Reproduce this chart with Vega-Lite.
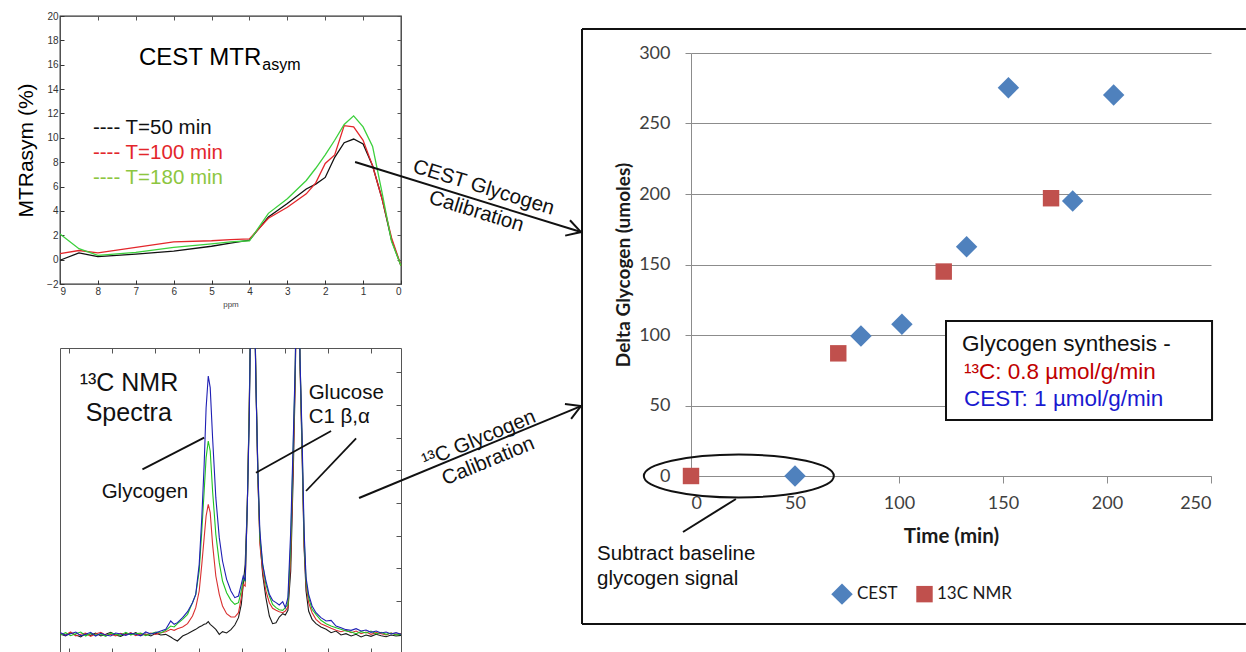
{
  "$schema": "https://vega.github.io/schema/vega-lite/v6.json",
  "background": "white",
  "padding": {"left": 14, "top": 10, "right": 0, "bottom": 0},
  "bounds": "flush",
  "spacing": 631,
  "config": {
    "view": {"stroke": null},
    "font": "Liberation Sans",
    "axis": {"labelFont": "Liberation Sans", "titleFont": "Liberation Sans"}
  },
  "resolve": {
    "scale": {"color": "independent", "shape": "independent", "size": "independent"},
    "legend": {"color": "independent", "shape": "independent", "size": "independent"}
  },
  "hconcat": [
    {
      "bounds": "flush",
      "spacing": 64,
      "resolve": {
        "scale": {"color": "independent"},
        "legend": {"color": "independent"}
      },
      "vconcat": [
        {
          "width": 341,
          "height": 268,
          "view": {"stroke": "#333333", "strokeWidth": 1.3},
          "data": {
            "values": [
              {"ppm": 9, "T=50 min": -0.05, "T=100 min": 0.5, "T=180 min": 2.1},
              {"ppm": 8.5, "T=50 min": 0.55, "T=100 min": 0.75, "T=180 min": 0.9},
              {"ppm": 8, "T=50 min": 0.25, "T=100 min": 0.55, "T=180 min": 0.35},
              {"ppm": 7, "T=50 min": 0.45, "T=100 min": 1.0, "T=180 min": 0.6},
              {"ppm": 6, "T=50 min": 0.7, "T=100 min": 1.45, "T=180 min": 1.0},
              {"ppm": 5, "T=50 min": 1.1, "T=100 min": 1.55, "T=180 min": 1.3},
              {"ppm": 4.5, "T=50 min": 1.35, "T=100 min": 1.65, "T=180 min": 1.45},
              {"ppm": 4, "T=50 min": 1.6, "T=100 min": 1.7, "T=180 min": 1.55},
              {"ppm": 3.5, "T=50 min": 3.5, "T=100 min": 3.4, "T=180 min": 3.8},
              {"ppm": 3, "T=50 min": 4.6, "T=100 min": 4.3, "T=180 min": 5.0},
              {"ppm": 2.5, "T=50 min": 5.8, "T=100 min": 5.4, "T=180 min": 6.5},
              {"ppm": 2.25, "T=50 min": 6.2, "T=100 min": 6.3, "T=180 min": 7.5},
              {"ppm": 2, "T=50 min": 6.75, "T=100 min": 7.9, "T=180 min": 8.6},
              {"ppm": 1.75, "T=50 min": 8.4, "T=100 min": 8.6, "T=180 min": 9.8},
              {"ppm": 1.5, "T=50 min": 9.6, "T=100 min": 11.0, "T=180 min": 11.1},
              {"ppm": 1.25, "T=50 min": 9.9, "T=100 min": 10.9, "T=180 min": 11.8},
              {"ppm": 1, "T=50 min": 9.5, "T=100 min": 9.8, "T=180 min": 10.9},
              {"ppm": 0.75, "T=50 min": 7.7, "T=100 min": 7.7, "T=180 min": 9.3},
              {"ppm": 0.5, "T=50 min": 5.0, "T=100 min": 5.0, "T=180 min": 5.5},
              {"ppm": 0.25, "T=50 min": 1.6, "T=100 min": 1.8, "T=180 min": 1.5},
              {"ppm": 0, "T=50 min": -0.5, "T=100 min": -0.5, "T=180 min": -0.5}
            ]
          },
          "resolve": {"axis": {"x": "independent", "y": "independent"}},
          "layer": [
            {
              "transform": [{"fold": ["T=50 min", "T=100 min", "T=180 min"], "as": ["scan", "mtr"]}],
              "mark": {"type": "line", "strokeWidth": 1.3},
              "encoding": {
                "x": {
                  "field": "ppm", "type": "quantitative",
                  "scale": {"domain": [0, 9], "reverse": true, "nice": false},
                  "axis": {"orient": "bottom", "values": [0, 1, 2, 3, 4, 5, 6, 7, 8, 9], "domain": false, "grid": false, "tickSize": -4, "tickColor": "#333", "labelFontSize": 10, "labelColor": "#333", "labelPadding": 6, "title": "ppm", "titleFontSize": 8, "titleFontWeight": "normal", "titleColor": "#444", "titlePadding": 4}
                },
                "y": {
                  "field": "mtr", "type": "quantitative",
                  "scale": {"domain": [-2, 20], "nice": false},
                  "axis": {"orient": "left", "values": [-2, 0, 2, 4, 6, 8, 10, 12, 14, 16, 18, 20], "domain": false, "grid": false, "tickSize": -4, "tickColor": "#333", "labelFontSize": 10, "labelColor": "#333", "labelPadding": 6, "title": "MTRasym (%)", "titleFontSize": 21, "titleFontWeight": "normal", "titleColor": "#000", "titlePadding": 10}
                },
                "color": {
                  "field": "scan", "type": "nominal",
                  "scale": {"domain": ["T=50 min", "T=100 min", "T=180 min"], "range": ["#111111", "#e3262b", "#3cd03c"]},
                  "legend": null
                }
              }
            },
            {
              "transform": [{"fold": ["T=50 min", "T=100 min", "T=180 min"], "as": ["scan", "mtr"]}],
              "mark": {"type": "line", "opacity": 0},
              "encoding": {
                "x": {"field": "ppm", "type": "quantitative", "axis": {"orient": "top", "values": [0, 1, 2, 3, 4, 5, 6, 7, 8, 9], "labels": false, "domain": false, "grid": false, "tickSize": -4, "tickColor": "#555", "title": null}},
                "y": {"field": "mtr", "type": "quantitative", "axis": {"orient": "right", "values": [-2, 0, 2, 4, 6, 8, 10, 12, 14, 16, 18, 20], "labels": false, "domain": false, "grid": false, "tickSize": -4, "tickColor": "#555", "title": null}}
              }
            },
            {
              "data": {"values": [{}]},
              "mark": {"type": "text", "text": "CEST MTR", "align": "left", "baseline": "middle", "fontSize": 24, "color": "#000"},
              "encoding": {"x": {"datum": 6.915, "axis": null}, "y": {"datum": 16.55, "axis": null}}
            },
            {
              "data": {"values": [{}]},
              "mark": {"type": "text", "text": "asym", "align": "left", "baseline": "middle", "fontSize": 16, "color": "#000"},
              "encoding": {"x": {"datum": 3.66, "axis": null}, "y": {"datum": 15.98, "axis": null}}
            },
            {
              "data": {"values": [{}]},
              "mark": {"type": "text", "text": "---- T=50 min", "align": "left", "baseline": "middle", "fontSize": 20.5, "color": "#111111"},
              "encoding": {"x": {"datum": 8.13, "axis": null}, "y": {"datum": 10.8, "axis": null}}
            },
            {
              "data": {"values": [{}]},
              "mark": {"type": "text", "text": "---- T=100 min", "align": "left", "baseline": "middle", "fontSize": 20.5, "color": "#e3262b"},
              "encoding": {"x": {"datum": 8.13, "axis": null}, "y": {"datum": 8.75, "axis": null}}
            },
            {
              "data": {"values": [{}]},
              "mark": {"type": "text", "text": "---- T=180 min", "align": "left", "baseline": "middle", "fontSize": 20.5, "color": "#8dc63f"},
              "encoding": {"x": {"datum": 8.13, "axis": null}, "y": {"datum": 6.7, "axis": null}}
            }
          ]
        },
        {
          "width": 341,
          "height": 305,
          "view": {"stroke": "#555555", "strokeWidth": 1},
          "data": {
            "values": [
              {"shift": 106.39, "t1": 0, "t2": 2, "t3": -2, "t4": 5},
              {"shift": 106.16, "t1": -5, "t2": -2, "t3": 5, "t4": -3},
              {"shift": 105.93, "t1": 5, "t2": 7, "t3": -4, "t4": 2},
              {"shift": 105.69, "t1": -2, "t2": -5, "t3": 2, "t4": 7},
              {"shift": 105.46, "t1": -8, "t2": 0, "t3": 7, "t4": -4},
              {"shift": 105.23, "t1": 2, "t2": 4, "t3": -5, "t4": 0},
              {"shift": 105.0, "t1": -3, "t2": -6, "t3": 3, "t4": 6},
              {"shift": 104.77, "t1": 4, "t2": 1, "t3": -2, "t4": -5},
              {"shift": 104.53, "t1": -5, "t2": 6, "t3": 1, "t4": 3},
              {"shift": 104.3, "t1": 0, "t2": -3, "t3": -6, "t4": -2},
              {"shift": 104.07, "t1": 6, "t2": 0, "t3": 4, "t4": -5},
              {"shift": 103.84, "t1": -2, "t2": -5, "t3": 0, "t4": 4},
              {"shift": 103.61, "t1": -6, "t2": 3, "t3": -3, "t4": 1},
              {"shift": 103.37, "t1": 2, "t2": -1, "t3": 6, "t4": -3},
              {"shift": 103.14, "t1": -1, "t2": 5, "t3": -2, "t4": 3},
              {"shift": 102.91, "t1": 5, "t2": -4, "t3": 2, "t4": 0},
              {"shift": 102.68, "t1": -3, "t2": 2, "t3": 4, "t4": -5},
              {"shift": 102.45, "t1": 1, "t2": -2, "t3": -4, "t4": 7},
              {"shift": 102.21, "t1": -5, "t2": 4, "t3": 2, "t4": 1},
              {"shift": 101.98, "t1": 3, "t2": 0, "t3": 7, "t4": 5},
              {"shift": 101.75, "t1": -2, "t2": 5, "t3": 4, "t4": 10},
              {"shift": 101.52, "t1": 0, "t2": 8, "t3": 12, "t4": 15},
              {"shift": 101.29, "t1": -8, "t2": 15, "t3": 25, "t4": 40},
              {"shift": 101.13, "t1": -15, "t2": 12, "t3": 22, "t4": 30},
              {"shift": 100.98, "t1": -20, "t2": 17, "t3": 32, "t4": 35},
              {"shift": 100.74, "t1": -5, "t2": 22, "t3": 45, "t4": 50},
              {"shift": 100.51, "t1": 2, "t2": 32, "t3": 60, "t4": 68},
              {"shift": 100.28, "t1": 10, "t2": 55, "t3": 95, "t4": 95},
              {"shift": 100.13, "t1": 15, "t2": 80, "t3": 120, "t4": 120},
              {"shift": 99.97, "t1": 22, "t2": 130, "t3": 190, "t4": 210},
              {"shift": 99.85, "t1": 26, "t2": 210, "t3": 310, "t4": 350},
              {"shift": 99.74, "t1": 30, "t2": 290, "t3": 430, "t4": 510},
              {"shift": 99.65, "t1": 32, "t2": 355, "t3": 530, "t4": 680},
              {"shift": 99.55, "t1": 38, "t2": 390, "t3": 580, "t4": 775},
              {"shift": 99.46, "t1": 30, "t2": 365, "t3": 550, "t4": 740},
              {"shift": 99.35, "t1": 24, "t2": 270, "t3": 430, "t4": 590},
              {"shift": 99.2, "t1": 15, "t2": 175, "t3": 300, "t4": 410},
              {"shift": 99.04, "t1": 0, "t2": 120, "t3": 215, "t4": 290},
              {"shift": 98.89, "t1": 8, "t2": 85, "t3": 160, "t4": 220},
              {"shift": 98.7, "t1": 4, "t2": 62, "t3": 125, "t4": 165},
              {"shift": 98.5, "t1": 14, "t2": 52, "t3": 102, "t4": 130},
              {"shift": 98.32, "t1": 28, "t2": 52, "t3": 90, "t4": 110},
              {"shift": 98.15, "t1": 50, "t2": 65, "t3": 95, "t4": 115},
              {"shift": 98.02, "t1": 90, "t2": 110, "t3": 130, "t4": 150},
              {"shift": 97.93, "t1": 150, "t2": 150, "t3": 165, "t4": 175},
              {"shift": 97.84, "t1": 210, "t2": 145, "t3": 160, "t4": 160},
              {"shift": 97.74, "t1": 390, "t2": 390, "t3": 390, "t4": 390},
              {"shift": 97.65, "t1": 690, "t2": 680, "t3": 670, "t4": 650},
              {"shift": 97.56, "t1": 1100, "t2": 1100, "t3": 1100, "t4": 1100},
              {"shift": 97.5, "t1": 1300, "t2": 1300, "t3": 1300, "t4": 1300},
              {"shift": 97.43, "t1": 1100, "t2": 1100, "t3": 1100, "t4": 1100},
              {"shift": 97.34, "t1": 760, "t2": 750, "t3": 750, "t4": 740},
              {"shift": 97.25, "t1": 460, "t2": 480, "t3": 490, "t4": 490},
              {"shift": 97.16, "t1": 290, "t2": 270, "t3": 290, "t4": 310},
              {"shift": 97.03, "t1": 180, "t2": 190, "t3": 210, "t4": 210},
              {"shift": 96.88, "t1": 110, "t2": 130, "t3": 150, "t4": 160},
              {"shift": 96.72, "t1": 55, "t2": 95, "t3": 115, "t4": 120},
              {"shift": 96.57, "t1": 32, "t2": 78, "t3": 90, "t4": 102},
              {"shift": 96.41, "t1": 35, "t2": 72, "t3": 80, "t4": 95},
              {"shift": 96.26, "t1": 52, "t2": 68, "t3": 74, "t4": 88},
              {"shift": 96.1, "t1": 62, "t2": 65, "t3": 72, "t4": 98},
              {"shift": 95.98, "t1": 58, "t2": 70, "t3": 80, "t4": 80},
              {"shift": 95.86, "t1": 72, "t2": 82, "t3": 90, "t4": 110},
              {"shift": 95.73, "t1": 190, "t2": 230, "t3": 270, "t4": 310},
              {"shift": 95.61, "t1": 490, "t2": 530, "t3": 570, "t4": 590},
              {"shift": 95.52, "t1": 760, "t2": 780, "t3": 800, "t4": 810},
              {"shift": 95.41, "t1": 1300, "t2": 1300, "t3": 1300, "t4": 1300},
              {"shift": 95.3, "t1": 810, "t2": 820, "t3": 830, "t4": 830},
              {"shift": 95.21, "t1": 560, "t2": 580, "t3": 590, "t4": 610},
              {"shift": 95.11, "t1": 260, "t2": 270, "t3": 290, "t4": 310},
              {"shift": 95.02, "t1": 130, "t2": 150, "t3": 160, "t4": 170},
              {"shift": 94.9, "t1": 70, "t2": 95, "t3": 110, "t4": 120},
              {"shift": 94.74, "t1": 45, "t2": 65, "t3": 75, "t4": 85},
              {"shift": 94.56, "t1": 32, "t2": 45, "t3": 60, "t4": 65},
              {"shift": 94.33, "t1": 22, "t2": 32, "t3": 42, "t4": 50},
              {"shift": 94.09, "t1": 15, "t2": 25, "t3": 32, "t4": 40},
              {"shift": 93.86, "t1": 5, "t2": 18, "t3": 25, "t4": 42},
              {"shift": 93.63, "t1": 10, "t2": 12, "t3": 20, "t4": 25},
              {"shift": 93.4, "t1": -2, "t2": 8, "t3": 15, "t4": 20},
              {"shift": 93.17, "t1": 2, "t2": 12, "t3": 10, "t4": 14},
              {"shift": 92.93, "t1": -5, "t2": 5, "t3": 7, "t4": 12},
              {"shift": 92.7, "t1": 0, "t2": 10, "t3": 2, "t4": 17},
              {"shift": 92.47, "t1": -8, "t2": 2, "t3": 8, "t4": 10},
              {"shift": 92.24, "t1": -2, "t2": 7, "t3": 4, "t4": 13},
              {"shift": 92.01, "t1": -6, "t2": 0, "t3": 10, "t4": 6},
              {"shift": 91.77, "t1": 0, "t2": 5, "t3": 1, "t4": 10},
              {"shift": 91.54, "t1": -4, "t2": 2, "t3": 6, "t4": 4},
              {"shift": 91.31, "t1": -7, "t2": -2, "t3": 0, "t4": 7},
              {"shift": 91.08, "t1": -2, "t2": 4, "t3": 4, "t4": 1},
              {"shift": 90.85, "t1": -5, "t2": 0, "t3": -2, "t4": 5},
              {"shift": 90.62, "t1": -3, "t2": 2, "t3": 0, "t4": 0}
            ]
          },
          "resolve": {"axis": {"x": "independent", "y": "independent"}},
          "layer": [
            {
              "transform": [{"fold": ["t1", "t2", "t3", "t4"], "as": ["scan", "intensity"]}],
              "mark": {"type": "line", "strokeWidth": 1.1, "clip": true},
              "encoding": {
                "x": {
                  "field": "shift", "type": "quantitative",
                  "scale": {"domain": [90.62, 106.42], "reverse": true, "nice": false, "zero": false},
                  "axis": {"orient": "bottom", "values": [92, 94, 96, 98, 100, 102, 104, 106], "labels": false, "domain": false, "grid": false, "tickSize": -5, "tickColor": "#555", "title": null}
                },
                "y": {
                  "field": "intensity", "type": "quantitative",
                  "scale": {"domain": [-56, 859], "nice": false, "zero": false},
                  "axis": {"orient": "right", "values": [100, 198, 296, 394, 492, 590, 688, 786], "labels": false, "domain": false, "grid": false, "tickSize": -5, "tickColor": "#555", "title": null}
                },
                "color": {
                  "field": "scan", "type": "nominal",
                  "scale": {"domain": ["t1", "t2", "t3", "t4"], "range": ["#1a1a1a", "#d93030", "#22c322", "#1f1fb4"]},
                  "legend": null
                }
              }
            },
            {
              "transform": [{"fold": ["t1", "t2", "t3", "t4"], "as": ["scan", "intensity"]}],
              "mark": {"type": "line", "opacity": 0},
              "encoding": {
                "x": {"field": "shift", "type": "quantitative", "axis": {"orient": "top", "values": [92, 94, 96, 98, 100, 102, 104, 106], "labels": false, "domain": false, "grid": false, "tickSize": -5, "tickColor": "#555", "title": null}},
                "y": {"field": "intensity", "type": "quantitative", "axis": null}
              }
            },
            {
              "data": {"values": [{}]},
              "mark": {"type": "text", "text": "¹³C NMR", "align": "left", "baseline": "middle", "fontSize": 25, "color": "#111"},
              "encoding": {"x": {"datum": 105.51, "axis": null}, "y": {"datum": 755, "axis": null}}
            },
            {
              "data": {"values": [{}]},
              "mark": {"type": "text", "text": "Spectra", "align": "left", "baseline": "middle", "fontSize": 25, "color": "#111"},
              "encoding": {"x": {"datum": 105.23, "axis": null}, "y": {"datum": 665, "axis": null}}
            },
            {
              "data": {"values": [{}]},
              "mark": {"type": "text", "text": "Glycogen", "align": "left", "baseline": "middle", "fontSize": 20.5, "color": "#111"},
              "encoding": {"x": {"datum": 104.49, "axis": null}, "y": {"datum": 428, "axis": null}}
            },
            {
              "data": {"values": [{}]},
              "mark": {"type": "text", "text": "Glucose", "align": "left", "baseline": "middle", "fontSize": 20.5, "color": "#111"},
              "encoding": {"x": {"datum": 94.9, "axis": null}, "y": {"datum": 725, "axis": null}}
            },
            {
              "data": {"values": [{}]},
              "mark": {"type": "text", "text": "C1 β,α", "align": "left", "baseline": "middle", "fontSize": 20.5, "color": "#111"},
              "encoding": {"x": {"datum": 94.9, "axis": null}, "y": {"datum": 652, "axis": null}}
            },
            {
              "data": {"values": [{}]},
              "mark": {"type": "rule", "color": "#111", "strokeWidth": 1.8},
              "encoding": {"x": {"datum": 102.6, "axis": null}, "y": {"datum": 495, "axis": null}, "x2": {"datum": 99.74}, "y2": {"datum": 590}}
            },
            {
              "data": {"values": [{}]},
              "mark": {"type": "rule", "color": "#111", "strokeWidth": 1.8},
              "encoding": {"x": {"datum": 97.34, "axis": null}, "y": {"datum": 485, "axis": null}, "x2": {"datum": 93.86}, "y2": {"datum": 610}}
            },
            {
              "data": {"values": [{}]},
              "mark": {"type": "rule", "color": "#111", "strokeWidth": 1.8},
              "encoding": {"x": {"datum": 95.02, "axis": null}, "y": {"datum": 430, "axis": null}, "x2": {"datum": 92.7}, "y2": {"datum": 588}}
            }
          ]
        }
      ]
    },
    {
      "width": 520,
      "height": 460,
      "layer": [
        {
          "data": {
            "values": [
              {"series": "CEST", "time": 50, "glycogen": 0},
              {"series": "CEST", "time": 81.7, "glycogen": 99.3},
              {"series": "CEST", "time": 101.4, "glycogen": 107.6},
              {"series": "CEST", "time": 132.5, "glycogen": 162.6},
              {"series": "CEST", "time": 152.6, "glycogen": 275.4},
              {"series": "CEST", "time": 183.5, "glycogen": 195},
              {"series": "CEST", "time": 203.2, "glycogen": 270.2},
              {"series": "13C NMR", "time": 0, "glycogen": 0},
              {"series": "13C NMR", "time": 70.8, "glycogen": 87},
              {"series": "13C NMR", "time": 121.5, "glycogen": 145},
              {"series": "13C NMR", "time": 173.1, "glycogen": 197}
            ]
          },
          "mark": {"type": "point", "filled": true, "opacity": 1},
          "encoding": {
            "x": {
              "field": "time", "type": "quantitative",
              "scale": {"domain": [0, 250], "nice": false},
              "axis": {"values": [0, 50, 100, 150, 200, 250], "grid": false, "domainColor": "#8c8c8c", "tickColor": "#8c8c8c", "tickSize": 7, "labelFont": "Lato", "labelFontSize": 18, "labelColor": "#404040", "labelPadding": 11, "title": "Time (min)", "titleFont": "Lato", "titleFontSize": 20.5, "titleFontWeight": "bold", "titleColor": "#1a1a1a", "titlePadding": 14}
            },
            "y": {
              "field": "glycogen", "type": "quantitative",
              "scale": {"domain": [0, 300], "range": [460, 37], "nice": false},
              "axis": {"values": [0, 50, 100, 150, 200, 250, 300], "grid": true, "gridColor": "#8c8c8c", "gridWidth": 1, "domainColor": "#8c8c8c", "tickColor": "#8c8c8c", "tickSize": 6, "labelFont": "Lato", "labelFontSize": 18, "labelColor": "#404040", "labelPadding": 15, "title": "Delta Glycogen (umoles)", "titleFont": "Lato", "titleFontSize": 19, "titleFontWeight": "bold", "titleColor": "#1a1a1a", "titlePadding": 5}
            },
            "color": {
              "field": "series", "type": "nominal",
              "scale": {"domain": ["CEST", "13C NMR"], "range": ["#4f81bd", "#c0504d"]},
              "legend": {"orient": "none", "legendX": 140, "legendY": 567, "direction": "horizontal", "title": null, "labelFont": "Lato", "labelFontSize": 17, "labelColor": "#1a1a1a", "symbolSize": 125, "columnPadding": 18, "labelOffset": 4, "padding": 0, "symbolStrokeWidth": 0}
            },
            "shape": {
              "field": "series", "type": "nominal",
              "scale": {"domain": ["CEST", "13C NMR"], "range": ["diamond", "square"]}
            },
            "size": {
              "field": "series", "type": "nominal",
              "scale": {"domain": ["CEST", "13C NMR"], "range": [460, 270]},
              "legend": null
            }
          }
        },
        {
          "data": {"values": [{}]},
          "mark": {"type": "rule", "color": "#111", "strokeWidth": 2},
          "encoding": {"x": {"datum": -52.4}, "x2": {"datum": 266.8}, "y": {"datum": 317}}
        },
        {
          "data": {"values": [{}]},
          "mark": {"type": "rule", "color": "#111", "strokeWidth": 2},
          "encoding": {"x": {"datum": -52.4}, "x2": {"datum": 266.8}, "y": {"datum": -105}}
        },
        {
          "data": {"values": [{}]},
          "mark": {"type": "rule", "color": "#111", "strokeWidth": 2},
          "encoding": {"x": {"datum": -52.4}, "y": {"datum": 317}, "y2": {"datum": -105}}
        },
        {
          "data": {"values": [{}]},
          "mark": {"type": "rule", "color": "#111", "strokeWidth": 2},
          "encoding": {"x": {"datum": -161.5}, "y": {"datum": 222.7}, "x2": {"datum": -52.9}, "y2": {"datum": 173.0}}
        },
        {
          "data": {"values": [{}]},
          "mark": {"type": "point", "shape": "M-1,-0.577L0,0L-1,0.577", "filled": false, "color": "#111", "strokeWidth": 2, "size": 784, "angle": 17.2, "opacity": 1},
          "encoding": {"x": {"datum": -52.9}, "y": {"datum": 173.0}}
        },
        {
          "data": {"values": [{}]},
          "mark": {"type": "rule", "color": "#111", "strokeWidth": 2},
          "encoding": {"x": {"datum": -159.6}, "y": {"datum": -15.6}, "x2": {"datum": -52.9}, "y2": {"datum": 49.6}}
        },
        {
          "data": {"values": [{}]},
          "mark": {"type": "point", "shape": "M-1,-0.577L0,0L-1,0.577", "filled": false, "color": "#111", "strokeWidth": 2, "size": 784, "angle": -22.5, "opacity": 1},
          "encoding": {"x": {"datum": -52.9}, "y": {"datum": 49.6}}
        },
        {
          "data": {"values": [{}]},
          "mark": {"type": "text", "text": ["CEST Glycogen", "Calibration"], "align": "center", "baseline": "middle", "angle": 17, "fontSize": 20.5, "lineHeight": 25, "color": "#111"},
          "encoding": {"x": {"datum": -99.7}, "y": {"datum": 204.5}}
        },
        {
          "data": {"values": [{}]},
          "mark": {"type": "text", "text": ["¹³C Glycogen", "Calibration"], "align": "center", "baseline": "middle", "angle": -22.5, "fontSize": 20.5, "lineHeight": 24, "color": "#111"},
          "encoding": {"x": {"datum": -101.9}, "y": {"datum": 26.2}}
        },
        {
          "data": {"values": [{}]},
          "mark": {"type": "point", "shape": "M-1,0C-1,-0.125 -0.552,-0.226 0,-0.226C0.552,-0.226 1,-0.125 1,0C1,0.125 0.552,0.226 0,0.226C-0.552,0.226 -1,0.125 -1,0Z", "filled": false, "color": "#111", "strokeWidth": 2, "size": 36100, "opacity": 1},
          "encoding": {"x": {"datum": 23}, "y": {"datum": 0}}
        },
        {
          "data": {"values": [{}]},
          "mark": {"type": "rule", "color": "#111", "strokeWidth": 2},
          "encoding": {"x": {"datum": 21.6}, "y": {"datum": -16.3}, "x2": {"datum": -3.85}, "y2": {"datum": -39.7}}
        },
        {
          "data": {"values": [{}]},
          "mark": {"type": "text", "text": ["Subtract baseline", "glycogen signal"], "align": "left", "baseline": "middle", "fontSize": 20.5, "lineHeight": 25, "color": "#111"},
          "encoding": {"x": {"datum": -45.2}, "y": {"datum": -55.3}}
        },
        {
          "data": {"values": [{}]},
          "mark": {"type": "rect", "fill": "white", "stroke": "#111", "strokeWidth": 2},
          "encoding": {"x": {"datum": 122.6}, "x2": {"datum": 250.5}, "y": {"datum": 109.9}, "y2": {"datum": 39.7}}
        },
        {
          "data": {"values": [{}]},
          "mark": {"type": "text", "text": "Glycogen synthesis -", "align": "left", "baseline": "middle", "fontSize": 22.5, "color": "#111"},
          "encoding": {"x": {"datum": 130.3}, "y": {"datum": 93.6}}
        },
        {
          "data": {"values": [{}]},
          "mark": {"type": "text", "text": "¹³C: 0.8 µmol/g/min", "align": "left", "baseline": "middle", "fontSize": 22.5, "color": "#c00000"},
          "encoding": {"x": {"datum": 131.3}, "y": {"datum": 73.8}}
        },
        {
          "data": {"values": [{}]},
          "mark": {"type": "text", "text": "CEST: 1 µmol/g/min", "align": "left", "baseline": "middle", "fontSize": 22.5, "color": "#1a1ad0"},
          "encoding": {"x": {"datum": 131.3}, "y": {"datum": 54.6}}
        }
      ]
    }
  ]
}
